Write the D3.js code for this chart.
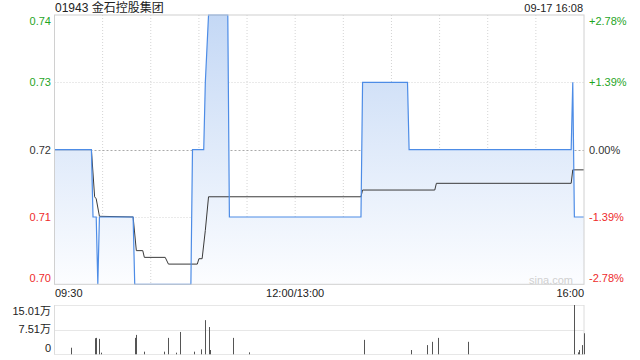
<!DOCTYPE html>
<html>
<head>
<meta charset="utf-8">
<script src="https://cdn.jsdelivr.net/npm/d3@7"></script>
<style>
  body { margin: 0; background: #fff; }
  text { font-family: "Liberation Sans", Arial, "Noto Sans CJK SC", sans-serif; }
</style>
</head>
<body>
<svg id="chart"></svg>
<script>
const width = 640, height = 360;

// ---- data ----
const title = "01943 金石控股集团";
const stamp = "09-17 16:08";
const prevClose = 0.72;
const priceTicks = [0.70, 0.71, 0.72, 0.73, 0.74];
const pctLabels = ["-2.78%", "-1.39%", "0.00%", "+1.39%", "+2.78%"];
const timeLabels = ["09:30", "12:00/13:00", "16:00"];

const priceTimes = ["09:30","09:53","09:54","09:56","09:57","09:58","10:19","10:20","10:55","10:56",
  "11:03","11:04","11:06","11:18","11:19","13:41","13:42","14:10","14:11","15:52","15:53","15:54","16:00"];
const priceValues = [0.72,0.72,0.71,0.71,0.70,0.71,0.71,0.70,0.70,0.72,
  0.72,0.73,0.74,0.74,0.71,0.71,0.73,0.73,0.72,0.72,0.73,0.71,0.71];

const avgTimes = ["09:30","09:53","09:55","09:56","09:58","10:19","10:21","10:25","10:26","10:39",
  "10:41","10:59","11:00","11:02","11:04","11:06","13:41","13:42","14:27","14:28","15:52","15:53","16:00"];
const avgValues = [0.72,0.72,0.713,0.7127,0.7101,0.710,0.705,0.705,0.704,0.704,
  0.703,0.703,0.7038,0.7038,0.708,0.713,0.713,0.714,0.714,0.715,0.715,0.717,0.717];

// volume in 万
const volTimes = ["09:40","09:55","09:56","09:58","09:59","10:20","10:21","10:26","10:38","10:41",
  "10:46","10:48","10:57","11:01","11:04","11:06","11:07","11:21","11:31","13:43",
  "14:12","14:22","14:25","14:29","14:48","15:54","15:56","15:57","15:59","16:00"];
const volValues = [2.0,4.9,5.0,4.7,0.5,5.0,5.9,0.8,0.8,5.0,
  0.5,6.8,0.8,1.5,10.4,8.3,1.3,5.0,0.6,4.4,
  1.3,2.8,3.8,5.0,3.8,15.01,0.6,1.3,2.8,6.4];
const volTicks = [0, 7.51, 15.01];
const volLabels = ["0", "7.51万", "15.01万"];

// ---- layout ----
const plotLeft = 54.5, plotRight = 584;
const plotTop = 15, plotBottom = 284.3;
const volTop = 305, volBottom = 354.3;
const green = "#1fa51f", red = "#ee2b2b", dark = "#333";

// trading minute index (09:30-12:00, 13:00-16:00)
function toIdx(s) {
  const [h, m] = s.split(":").map(Number);
  const t = h * 60 + m;
  return t <= 720 ? t - 570 : t - 780 + 150;
}

const x = d3.scaleLinear().domain([0, 330]).range([plotLeft, plotRight]);
const y = d3.scaleLinear().domain([0.70, 0.74]).range([plotBottom, plotTop]);
const yv = d3.scaleLinear().domain([0, 15.01]).range([volBottom, volTop]);

const svg = d3.select("#chart").attr("width", width).attr("height", height);

const defs = svg.append("defs");
const grad = defs.append("linearGradient").attr("id", "fillGrad")
  .attr("gradientUnits", "userSpaceOnUse")
  .attr("x1", 0).attr("y1", plotTop).attr("x2", 0).attr("y2", plotBottom);
grad.append("stop").attr("offset", 0).attr("stop-color", "#c4d8f5");
grad.append("stop").attr("offset", 1).attr("stop-color", "#fcfdff");

// grid: vertical every 30 min
for (let i = 1; i < 11; i++) {
  svg.append("line")
    .attr("x1", x(i * 30)).attr("x2", x(i * 30))
    .attr("y1", plotTop).attr("y2", plotBottom)
    .attr("stroke", "#d4d4d4").attr("stroke-dasharray", "1,2");
}
// horizontal price grid
[0.71, 0.72, 0.73].forEach(v => {
  svg.append("line")
    .attr("x1", plotLeft).attr("x2", plotRight)
    .attr("y1", Math.round(y(v)) + 0.5).attr("y2", Math.round(y(v)) + 0.5)
    .attr("stroke", v === prevClose ? "#aaa" : "#d4d4d4")
    .attr("stroke-dasharray", v === prevClose ? "2,2" : "1,2");
});

// price series
const pricePts = priceTimes.map((t, i) => ({ m: toIdx(t), v: priceValues[i] }));
const avgPts = avgTimes.map((t, i) => ({ m: toIdx(t), v: avgValues[i] }));

svg.append("path")
  .datum(pricePts)
  .attr("fill", "url(#fillGrad)")
  .attr("d", d3.area().x(d => x(d.m)).y0(plotBottom).y1(d => y(d.v)));

svg.append("path")
  .datum(avgPts)
  .attr("fill", "none").attr("stroke", "#3a3a3a").attr("stroke-width", 1)
  .attr("d", d3.line().x(d => x(d.m)).y(d => y(d.v)));

svg.append("path")
  .datum(pricePts)
  .attr("fill", "none").attr("stroke", "#4d8ce6").attr("stroke-width", 1.2)
  .attr("d", d3.line().x(d => x(d.m)).y(d => y(d.v)));

// plot border
svg.append("rect")
  .attr("x", plotLeft).attr("y", plotTop)
  .attr("width", plotRight - plotLeft).attr("height", plotBottom - plotTop)
  .attr("fill", "none").attr("stroke", "#d0d0d0");

// watermark
svg.append("text").attr("x", 573).attr("y", 280).attr("dy", "0.35em")
  .attr("text-anchor", "end").attr("font-size", 11).attr("fill", "#d0d0d0").text("sina.com");

// title and stamp
svg.append("text").attr("x", 55).attr("y", 12).attr("font-size", 12).attr("fill", "#222").text(title);
svg.append("text").attr("x", 583).attr("y", 12).attr("text-anchor", "end")
  .attr("font-size", 11).attr("fill", "#222").text(stamp);

// price labels (left) and percent labels (right)
function labelY(v) {
  if (v === 0.74) return plotTop + 6;
  if (v === 0.70) return plotBottom - 6.5;
  return y(v);
}
function labelColor(v) { return v > prevClose ? green : v < prevClose ? red : dark; }

priceTicks.forEach((v, i) => {
  svg.append("text").attr("x", 51).attr("y", labelY(v)).attr("dy", "0.35em")
    .attr("text-anchor", "end").attr("font-size", 11).attr("fill", labelColor(v))
    .text(v.toFixed(2));
  svg.append("text").attr("x", 589).attr("y", labelY(v)).attr("dy", "0.35em")
    .attr("font-size", 11).attr("fill", labelColor(v))
    .text(pctLabels[i]);
});

// time labels
const timeAnchor = ["start", "middle", "end"];
const timePos = [plotLeft + 0.5, x(150), plotRight];
timeLabels.forEach((t, i) => {
  svg.append("text").attr("x", timePos[i]).attr("y", 293).attr("dy", "0.35em")
    .attr("text-anchor", timeAnchor[i]).attr("font-size", 11).attr("fill", "#222").text(t);
});

// volume panel
volTicks.forEach(v => {
  svg.append("line")
    .attr("x1", plotLeft).attr("x2", plotRight)
    .attr("y1", Math.round(yv(v)) + 0.5).attr("y2", Math.round(yv(v)) + 0.5)
    .attr("stroke", "#cfcfcf").attr("stroke-dasharray", "1,1");
});
[plotLeft, plotRight].forEach(px => {
  svg.append("line").attr("x1", px).attr("x2", px)
    .attr("y1", volTop).attr("y2", volBottom)
    .attr("stroke", "#dcdcdc");
});
const volLabelY = [348, 329, 311];
volTicks.forEach((v, i) => {
  svg.append("text").attr("x", 51).attr("y", volLabelY[i]).attr("dy", "0.35em")
    .attr("text-anchor", "end").attr("font-size", 11).attr("fill", "#222").text(volLabels[i]);
});

svg.append("g").selectAll("line")
  .data(volTimes.map((t, i) => ({ m: toIdx(t), v: volValues[i] })))
  .join("line")
  .attr("x1", d => Math.round(x(d.m)) + 0.5).attr("x2", d => Math.round(x(d.m)) + 0.5)
  .attr("y1", volBottom).attr("y2", d => yv(d.v))
  .attr("stroke", "#555").attr("stroke-width", 1);
</script>
</body>
</html>
